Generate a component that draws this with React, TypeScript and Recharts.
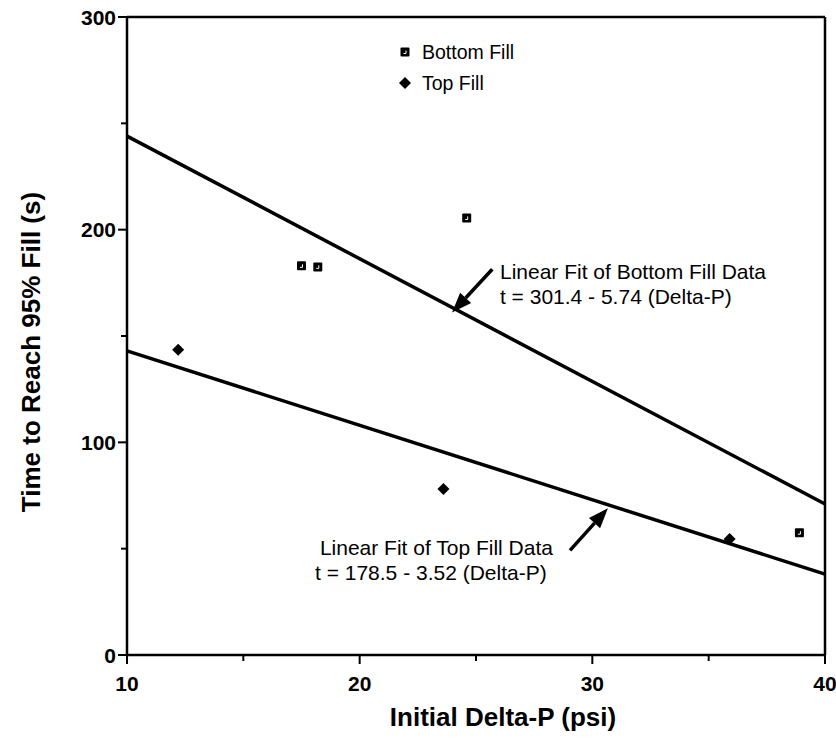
import React from "react";
import {
  ScatterChart,
  Scatter,
  XAxis,
  YAxis,
  ReferenceLine,
  ReferenceDot,
  Legend,
  Label,
} from "recharts";

const bottomFill = [
  { x: 17.5, y: 183 },
  { x: 18.2, y: 182.5 },
  { x: 24.6, y: 205.5 },
  { x: 38.9, y: 57.5 },
];
const topFill = [
  { x: 12.2, y: 143.5 },
  { x: 23.6, y: 78 },
  { x: 35.9, y: 54.5 },
];

// fitted lines, end points at the axis limits
const bottomFit = [
  { x: 10, y: 244 },
  { x: 40, y: 71 },
];
const topFit = [
  { x: 10, y: 143 },
  { x: 40, y: 38 },
];

const xTicks = [10, 15, 20, 25, 30, 35, 40];
const xMajor = [10, 20, 30, 40];
const yTicks = [0, 50, 100, 150, 200, 250, 300];
const yMajor = [0, 100, 200, 300];

const bottomNote = ["Linear Fit of Bottom Fill Data", "t = 301.4 - 5.74 (Delta-P)"];
const topNote = ["Linear Fit of Top Fill Data", "t = 178.5 - 3.52 (Delta-P)"];

const FONT = "'Liberation Sans', Arial, Helvetica, sans-serif";

const Square = (props: any) => {
  const { cx, cy } = props;
  return (
    <g>
      <rect x={cx - 4.5} y={cy - 4.5} width={9} height={9} rx={1} fill="#000" />
      <path d={`M${cx - 1.5} ${cy + 1.5} h2.5 v-3`} stroke="#fff" strokeWidth={1} fill="none" />
    </g>
  );
};

const Diamond = (props: any) => {
  const { cx, cy } = props;
  return <polygon points={`${cx},${cy - 6} ${cx + 6},${cy} ${cx},${cy + 6} ${cx - 6},${cy}`} fill="#000" />;
};

const NoDot = () => <g />;

const XTick = (props: any) => {
  const { x, y, payload } = props;
  const major = xMajor.includes(payload.value);
  return (
    <g>
      <line x1={x} y1={y} x2={x} y2={y + (major ? 9 : 6)} stroke="#000" strokeWidth={2} />
      {major && (
        <text x={x} y={y + 36} textAnchor="middle" fontFamily={FONT} fontWeight="bold" fontSize={21} fill="#000">
          {payload.value}
        </text>
      )}
    </g>
  );
};

const YTick = (props: any) => {
  const { x, y, payload } = props;
  const major = yMajor.includes(payload.value);
  return (
    <g>
      <line x1={x} y1={y} x2={x - (major ? 9 : 6)} y2={y} stroke="#000" strokeWidth={2} />
      {major && (
        <text x={x - 11} y={y} dy="0.36em" textAnchor="end" fontFamily={FONT} fontWeight="bold" fontSize={21} fill="#000">
          {payload.value}
        </text>
      )}
    </g>
  );
};

const Arrow = (props: any) => {
  const { x1, y1, x2, y2 } = props;
  const a = Math.atan2(y2 - y1, x2 - x1);
  const len = 20;
  const w = 7.5;
  const bx = x2 - len * Math.cos(a);
  const by = y2 - len * Math.sin(a);
  const px = -Math.sin(a) * w;
  const py = Math.cos(a) * w;
  return (
    <g>
      <line x1={x1} y1={y1} x2={bx} y2={by} stroke="#000" strokeWidth={3.5} />
      <polygon points={`${x2},${y2} ${bx + px},${by + py} ${bx - px},${by - py}`} fill="#000" />
    </g>
  );
};

const noteText = (text: string, anchor: string) => (props: any) => (
  <text
    x={props.cx}
    y={props.cy}
    dy="0.36em"
    textAnchor={anchor}
    fontFamily={FONT}
    fontSize={21}
    fill="#000"
  >
    {text}
  </text>
);

const renderLegend = () => (
  <svg width={200} height={60}>
    <Square cx={10} cy={16} />
    <text x={27} y={16} dy="0.36em" fontFamily={FONT} fontSize={19.5} fill="#000">
      Bottom Fill
    </text>
    <Diamond cx={10} cy={47} />
    <text x={27} y={47} dy="0.36em" fontFamily={FONT} fontSize={19.5} fill="#000">
      Top Fill
    </text>
  </svg>
);

export default function App() {
  return (
    <div style={{ position: "absolute", left: 0, top: 0, background: "#fff" }}>
      <ScatterChart width={836} height={753} margin={{ top: 17, right: 11, bottom: 0, left: 0 }}>
        <XAxis
          type="number"
          dataKey="x"
          domain={[10, 40]}
          ticks={xTicks}
          interval={0}
          height={98}
          tickSize={0}
          tickMargin={0}
          tick={XTick}
          axisLine={{ stroke: "#000", strokeWidth: 2.5 }}
          tickLine={false}
        >
          <Label
            content={(p: any) => (
              <text
                x={p.viewBox.x + p.viewBox.width / 2 + 27}
                y={p.viewBox.y + 62}
                dy="0.36em"
                textAnchor="middle"
                fontFamily={FONT}
                fontWeight="bold"
                fontSize={26}
                fill="#000"
              >
                Initial Delta-P (psi)
              </text>
            )}
          />
        </XAxis>
        <YAxis
          type="number"
          dataKey="y"
          domain={[0, 300]}
          ticks={yTicks}
          interval={0}
          width={127}
          tickSize={0}
          tickMargin={0}
          tick={YTick}
          axisLine={{ stroke: "#000", strokeWidth: 2.5 }}
          tickLine={false}
        >
          <Label
            content={() => (
              <text
                x={31}
                y={352}
                dy="0.36em"
                textAnchor="middle"
                transform="rotate(-90 31 352)"
                fontFamily={FONT}
                fontWeight="bold"
                fontSize={26}
                fill="#000"
              >
                Time to Reach 95% Fill (s)
              </text>
            )}
          />
        </YAxis>
        <ReferenceLine y={300} stroke="#000" strokeWidth={2.5} />
        <ReferenceLine x={40} stroke="#000" strokeWidth={2.5} />

        <Scatter data={bottomFit} line={{ stroke: "#000", strokeWidth: 3.5 }} shape={NoDot} isAnimationActive={false} />
        <Scatter data={topFit} line={{ stroke: "#000", strokeWidth: 3.5 }} shape={NoDot} isAnimationActive={false} />
        <Scatter name="Bottom Fill" data={bottomFill} shape={Square} isAnimationActive={false} />
        <Scatter name="Top Fill" data={topFill} shape={Diamond} isAnimationActive={false} />

        <ReferenceLine
          segment={[
            { x: 25.7, y: 181.4 },
            { x: 23.97, y: 161 },
          ]}
          shape={Arrow}
        />
        <ReferenceLine
          segment={[
            { x: 29.04, y: 49.2 },
            { x: 30.67, y: 69 },
          ]}
          shape={Arrow}
        />
        <ReferenceDot x={26.03} y={180.5} r={0} shape={noteText(bottomNote[0], "start")} />
        <ReferenceDot x={26.03} y={168.5} r={0} shape={noteText(bottomNote[1], "start")} />
        <ReferenceDot x={18.29} y={50.6} r={0} shape={noteText(topNote[0], "start")} />
        <ReferenceDot x={18.08} y={38.9} r={0} shape={noteText(topNote[1], "start")} />

        <Legend
          layout="horizontal"
          verticalAlign="middle"
          align="center"
          wrapperStyle={{ position: "absolute", left: 395, top: 36, width: 200, height: 60 }}
          content={renderLegend}
        />
      </ScatterChart>
    </div>
  );
}
